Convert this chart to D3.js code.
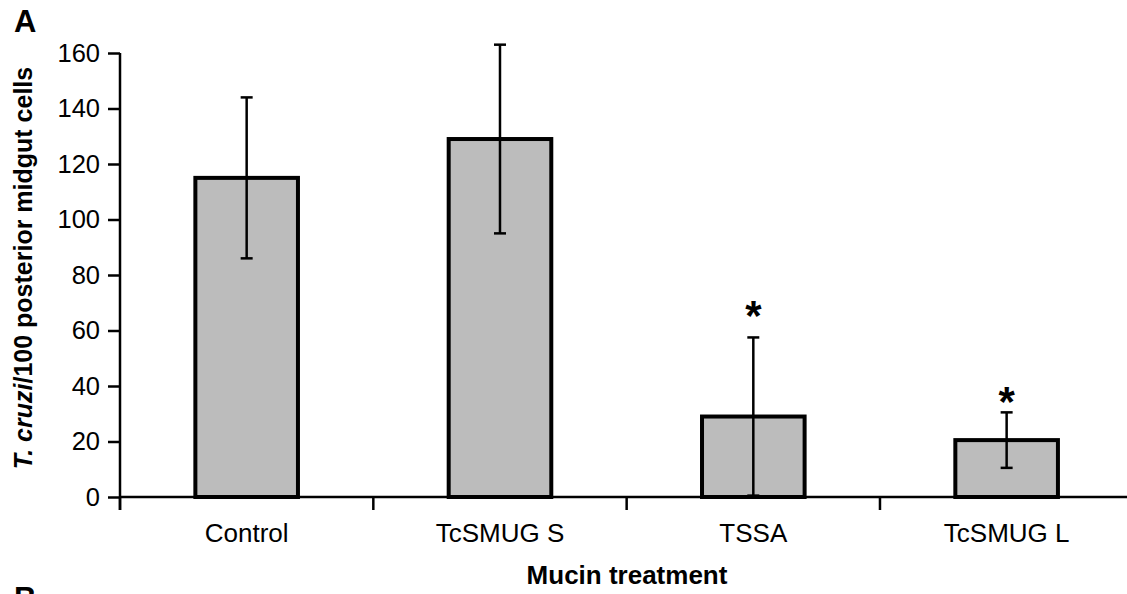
<!DOCTYPE html>
<html>
<head>
<meta charset="utf-8">
<script src="https://cdn.jsdelivr.net/npm/d3@7"></script>
<style>
  body { margin: 0; background: #fff; }
  svg { display: block; font-family: "Liberation Sans", Arial, sans-serif; }
</style>
</head>
<body>
<script>
// values
var categories = ["Control", "TcSMUG S", "TSSA", "TcSMUG L"];
var means = [115, 129, 29, 20.5];
var errors = [29, 34, 28.5, 10];
var significant = [false, false, true, true];
var yTicks = [0, 20, 40, 60, 80, 100, 120, 140, 160];

var width = 1127,
	height = 594;

var svg = d3.select("body").append("svg")
	.attr("width", width)
	.attr("height", height);

var x = d3.scaleBand()
	.domain(categories)
	.range([120, 1133.3])
	.padding(0);

var y = d3.scaleLinear()
	.domain([0, 160])
	.range([497, 53]);

var barW = x.bandwidth() * 0.405;
var capW = 12;
var starGap = [0, 0, 20, 9]; // px between error cap and asterisk

// bars
svg.selectAll(".bar")
	.data(means)
	.enter()
	.append("rect")
	.attr("class", "bar")
	.attr("x", function(d, i) { return x(categories[i]) + x.bandwidth() / 2 - barW / 2; })
	.attr("y", function(d) { return y(d); })
	.attr("width", barW)
	.attr("height", function(d) { return y(0) - y(d); })
	.style("fill", "#bcbcbc")
	.style("stroke", "#000")
	.style("stroke-width", 4);

// error bars
var eb = svg.selectAll(".err")
	.data(means)
	.enter()
	.append("g")
	.attr("class", "err")
	.style("stroke", "#000")
	.style("stroke-width", 2.5);

function cx(i) { return x(categories[i]) + x.bandwidth() / 2; }
function lo(d, i) { return Math.max(0, d - errors[i]); }
function hi(d, i) { return d + errors[i]; }

eb.append("line")
	.attr("x1", function(d, i) { return cx(i); })
	.attr("x2", function(d, i) { return cx(i); })
	.attr("y1", function(d, i) { return y(lo(d, i)); })
	.attr("y2", function(d, i) { return y(hi(d, i)); });
eb.append("line")
	.attr("x1", function(d, i) { return cx(i) - capW / 2; })
	.attr("x2", function(d, i) { return cx(i) + capW / 2; })
	.attr("y1", function(d, i) { return y(hi(d, i)); })
	.attr("y2", function(d, i) { return y(hi(d, i)); });
eb.append("line")
	.attr("x1", function(d, i) { return cx(i) - capW / 2; })
	.attr("x2", function(d, i) { return cx(i) + capW / 2; })
	.attr("y1", function(d, i) { return y(lo(d, i)); })
	.attr("y2", function(d, i) { return y(lo(d, i)); });

// asterisks
svg.selectAll(".star")
	.data(means)
	.enter()
	.filter(function(d, i) { return significant[i]; })
	.append("text")
	.attr("class", "star")
	.attr("x", function(d) { return cx(means.indexOf(d)); })
	.attr("y", function(d) {
		var i = means.indexOf(d);
		return y(hi(d, i)) - starGap[i] + 13;
	})
	.attr("text-anchor", "middle")
	.style("font-size", "42px")
	.style("font-weight", "bold")
	.text("*");

// y axis
var yAxis = d3.axisLeft(y)
	.tickValues(yTicks)
	.tickSize(12)
	.tickPadding(8);

var gy = svg.append("g")
	.attr("transform", "translate(120,0)")
	.call(yAxis);
gy.select(".domain").remove();
gy.selectAll(".tick line").style("stroke-width", 2.5);
gy.selectAll(".tick text")
	.style("font-size", "25.5px")
	.style("font-family", "Liberation Sans, Arial, sans-serif")
	.style("fill", "#000");

// x axis (labels only, ticks at band boundaries)
var xAxis = d3.axisBottom(x)
	.tickSize(0)
	.tickPadding(26.5);

var gx = svg.append("g")
	.attr("transform", "translate(0,497)")
	.call(xAxis);
gx.select(".domain").remove();
gx.selectAll(".tick text")
	.style("font-size", "26px")
	.style("font-family", "Liberation Sans, Arial, sans-serif")
	.style("fill", "#000");

svg.selectAll(".xb")
	.data(categories)
	.enter()
	.append("line")
	.attr("x1", function(d) { return x(d); })
	.attr("x2", function(d) { return x(d); })
	.attr("y1", y(0))
	.attr("y2", y(0) + 13)
	.style("stroke", "#000")
	.style("stroke-width", 2.5);

svg.append("line")
	.attr("x1", 120).attr("x2", width)
	.attr("y1", y(0)).attr("y2", y(0))
	.style("stroke", "#000")
	.style("stroke-width", 2.5);

svg.append("line")
	.attr("x1", 120).attr("x2", 120)
	.attr("y1", y(160)).attr("y2", y(0) + 13)
	.style("stroke", "#000")
	.style("stroke-width", 2.5);

// titles
svg.append("text")
	.attr("x", 627)
	.attr("y", 584)
	.attr("text-anchor", "middle")
	.style("font-size", "26px")
	.style("font-weight", "bold")
	.text("Mucin treatment");

var yl = svg.append("text")
	.attr("transform", "translate(32,268) rotate(-90)")
	.attr("text-anchor", "middle")
	.style("font-size", "25px")
	.style("font-weight", "bold");
yl.append("tspan").style("font-style", "italic").text("T. cruzi");
yl.append("tspan").text("/100 posterior midgut cells");

// panel letters (B is cut by the bottom edge, as in the figure)
svg.append("text")
	.attr("x", 14).attr("y", 32)
	.style("font-size", "31px")
	.style("font-weight", "bold")
	.text("A");
svg.append("text")
	.attr("x", 14).attr("y", 609)
	.style("font-size", "31px")
	.style("font-weight", "bold")
	.text("B");
</script>
</body>
</html>
